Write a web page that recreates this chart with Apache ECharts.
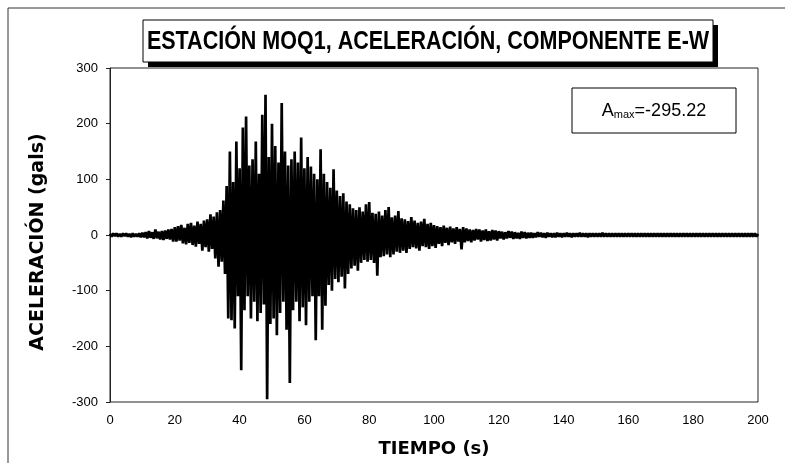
<!DOCTYPE html>
<html>
<head>
<meta charset="utf-8">
<script src="https://cdn.jsdelivr.net/npm/echarts@6/dist/echarts.min.js"></script>
<style>
  html, body { margin: 0; padding: 0; background: #ffffff; }
  #chart { width: 785px; height: 463px; }
</style>
</head>
<body>
<div id="chart"></div>
<script>
// Registro de aceleración, estación MOQ1, componente E-W
const titulo = 'ESTACIÓN MOQ1, ACELERACIÓN, COMPONENTE E-W';
const etiquetaPico = 'A';
const subPico = 'max';
const valorPico = '=-295.22';
const nombreX = 'TIEMPO (s)';
const nombreY = 'ACELERACIÓN (gals)';

// Eje de tiempo (s) y de aceleración (gals)
const ticksX = [0, 20, 40, 60, 80, 100, 120, 140, 160, 180, 200];
const ticksY = [-300, -200, -100, 0, 100, 200, 300];

// Paso de muestreo de la serie (s)
const dt = 0.5;

// Aceleración (gals), una fila por cada 10 s
const aceleracion = [
  2, -3, 3, -2, 3, -3, 2, -3, 3, -2, 3, -3, 2, -4, 3, -3, 2, -3, 3, -4,
  4, -4, 5, -6, 7, -5, 5, -7, 10, -6, 6, -8, 7, -9, 8, -7, 10, -8, 11, -12,
  14, -12, 16, -10, 18, -15, 13, -17, 20, -14, 22, -18, 17, -21, 24, -16, 20, -28, 26, -22,
  28, -30, 37, -25, 33, -42, 41, -57, 45, -48, 62, -70, 88, -150, 150, -153, 95, -168, 168, -110,
  120, -243, 193, -135, 213, -110, 125, -150, 136, -120, 168, -155, 110, -140, 216, -125, 252, -295.22, 140, -160,
  200, -150, 160, -180, 130, -140, 237, -120, 150, -170, 125, -266, 136, -135, 150, -120, 130, -155, 175, -130,
  120, -162, 140, -120, 123, -110, 110, -189, 100, -110, 154, -170, 110, -127, 95, -90, 85, -100, 118, -79,
  80, -85, 70, -75, 75, -96, 60, -70, 55, -60, 48, -55, 45, -64, 50, -50, 42, -45, 55, -48,
  59, -45, 40, -50, 38, -73, 42, -40, 35, -38, 45, -35, 50, -40, 32, -35, 35, -30, 43, -32,
  30, -28, 28, -32, 25, -25, 32, -22, 26, -24, 22, -28, 24, -20, 29, -22, 20, -25, 22, -20,
  18, -23, 16, -16, 14, -20, 17, -14, 13, -18, 15, -13, 12, -16, 14, -12, 11, -26, 14, -13,
  12, -11, 10, -13, 9, -10, 11, -8, 10, -12, 8, -9, 10, -11, 7, -10, 9, -8, 8, -10,
  7, -6, 6, -8, 5, -6, 7, -5, 6, -7, 5, -6, 4, -7, 6, -5, 5, -6, 4, -5,
  4, -5, 3, -4, 5, -3, 4, -4, 3, -5, 4, -3, 3, -4, 3, -4, 4, -3, 3, -4,
  3, -3, 4, -3, 3, -4, 3, -3, 3, -3, 4, -3, 3, -3, 3, -4, 3, -3, 3, -3,
  3, -3, 3, -3, 4, -3, 3, -3, 3, -3, 3, -3, 3, -3, 3, -3, 3, -3, 3, -3,
  3, -3, 3, -3, 3, -3, 3, -3, 3, -3, 3, -3, 3, -3, 3, -3, 3, -3, 3, -3,
  3, -3, 3, -3, 3, -3, 3, -3, 3, -3, 3, -3, 3, -3, 3, -3, 3, -3, 3, -3,
  3, -3, 3, -3, 3, -3, 3, -3, 3, -3, 3, -3, 3, -3, 3, -3, 3, -3, 3, -3,
  3, -3, 3, -3, 3, -3, 3, -3, 3, -3, 3, -3, 3, -3, 3, -3, 3, -3, 3, -3,
  2
];

const serie = aceleracion.map((a, i) => [i * dt, a]);

const chart = echarts.init(document.getElementById('chart'), null, { renderer: 'canvas' });

const fuente = 'Arial, "Liberation Sans", sans-serif';
const fuenteAncha = '"DejaVu Sans", Arial, sans-serif';

chart.setOption({
  animation: false,
  backgroundColor: '#ffffff',
  grid: {
    left: 110, right: 27, top: 68, bottom: 59,
    show: true, borderColor: '#222222', borderWidth: 1, backgroundColor: 'transparent'
  },
  xAxis: {
    type: 'value',
    min: ticksX[0], max: ticksX[ticksX.length - 1], interval: ticksX[1] - ticksX[0],
    name: nombreX, nameLocation: 'middle', nameGap: 38,
    nameTextStyle: { fontFamily: fuenteAncha, fontWeight: 'bold', fontSize: 18, color: '#000' },
    axisLine: { show: true, lineStyle: { color: '#222', width: 1 } },
    axisTick: { show: false },
    axisLabel: { fontFamily: fuente, fontSize: 13, color: '#000', margin: 12 },
    splitLine: { show: false }
  },
  yAxis: {
    type: 'value',
    min: ticksY[0], max: ticksY[ticksY.length - 1], interval: ticksY[1] - ticksY[0],
    name: nombreY, nameLocation: 'middle', nameGap: 62, nameRotate: 90,
    nameTextStyle: { fontFamily: fuenteAncha, fontWeight: 'bold', fontSize: 19, color: '#000',
                     padding: [0, 14, 0, 0] },
    axisLine: { show: true, lineStyle: { color: '#222', width: 1 } },
    axisTick: { show: true, inside: false, length: 4, lineStyle: { color: '#222' } },
    axisLabel: { fontFamily: fuente, fontSize: 13, color: '#000', margin: 12 },
    splitLine: { show: false }
  },
  series: [{
    type: 'line',
    data: serie,
    showSymbol: false,
    symbol: 'none',
    lineStyle: { color: '#000000', width: 2.7, join: 'miter', miterLimit: 1.5 },
    z: 3
  }],
  graphic: [
    // marco exterior de la figura
    { type: 'rect', shape: { x: 8, y: 8, width: 800, height: 480 },
      style: { fill: 'none', stroke: '#333', lineWidth: 1 }, z: 0, silent: true },
    // sombra del recuadro de título
    { type: 'rect', shape: { x: 148, y: 25, width: 570, height: 42 },
      style: { fill: '#000' }, z: 10, silent: true },
    // recuadro de título
    { type: 'rect', shape: { x: 143, y: 20, width: 570, height: 42 },
      style: { fill: '#fff', stroke: '#000', lineWidth: 1 }, z: 11, silent: true },
    { type: 'text', x: 428, y: 42, scaleX: 0.86, z: 12, silent: true,
      style: { text: titulo, fill: '#000', font: 'bold 25px ' + fuente,
               align: 'center', verticalAlign: 'middle' } },
    // recuadro del valor máximo
    { type: 'rect', shape: { x: 572, y: 88, width: 164, height: 45 },
      style: { fill: '#fff', stroke: '#000', lineWidth: 1 }, z: 11, silent: true },
    { type: 'text', x: 654, y: 111, z: 12, silent: true,
      style: {
        text: '{a|' + etiquetaPico + '}{s|' + subPico + '}{a|' + valorPico + '}',
        align: 'center', verticalAlign: 'middle',
        rich: {
          a: { fontFamily: fuente, fontSize: 18, fill: '#000', color: '#000' },
          s: { fontFamily: fuente, fontSize: 11, fill: '#000', color: '#000', padding: [8, 0, 0, 0] }
        }
      } }
  ]
});
</script>
</body>
</html>
